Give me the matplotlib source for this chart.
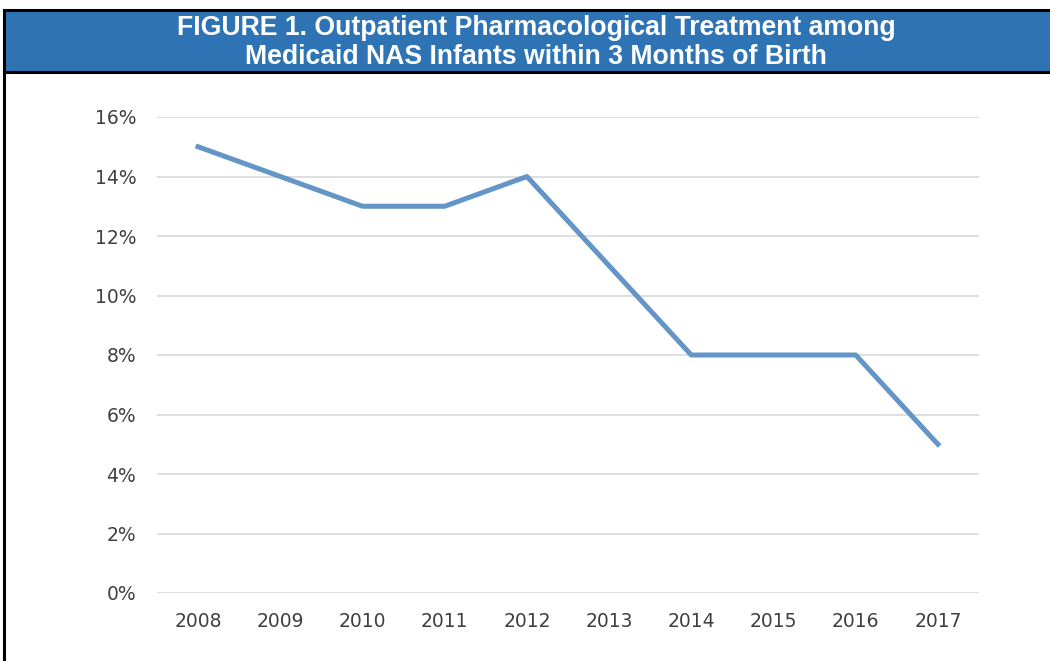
import numpy as np
import matplotlib.pyplot as plt
from matplotlib.patches import Rectangle
from matplotlib.lines import Line2D

# Outpatient pharmacological treatment share, by birth year
years = ['2008', '2009', '2010', '2011', '2012', '2013', '2014', '2015', '2016', '2017']
pct_treated = [15, 14, 13, 13, 14, 11, 8, 8, 8, 5]
y_ticks = [0, 2, 4, 6, 8, 10, 12, 14, 16]

W, H = 1050, 661
fig = plt.figure(figsize=(W / 100, H / 100), dpi=100)

# header band and frame
fig.patches.append(Rectangle((4 / W, 1 - 72 / H), 1, 62 / H, transform=fig.transFigure,
                             facecolor='#2E73B4', edgecolor='none'))
for yy in (10, 72):
    fig.add_artist(Line2D([4 / W, 1], [1 - yy / H, 1 - yy / H], color='black', lw=2.2))
fig.add_artist(Line2D([4 / W, 4 / W], [0, 1 - 10 / H], color='black', lw=2.2))

fig.text(536 / W, 1 - 28 / H, 'FIGURE 1. Outpatient Pharmacological Treatment among',
         ha='center', va='center', color='white', fontsize=19.2, fontweight='bold',
         family='Liberation Sans')
fig.text(536 / W, 1 - 57 / H, 'Medicaid NAS Infants within 3 Months of Birth',
         ha='center', va='center', color='white', fontsize=19.2, fontweight='bold',
         family='Liberation Sans')

# plot area
ax = fig.add_axes([157 / W, 1 - 593 / H, (979 - 157) / W, (593 - 117) / H])
x = np.arange(len(years))
ax.plot(x, pct_treated, color='#6395C7', lw=3.6)
ax.set_xlim(-0.5, len(years) - 0.5)
ax.set_ylim(0, 16)
ax.set_yticks(y_ticks)
ax.set_yticklabels([f'{v}%' for v in y_ticks])
ax.set_xticks(x)
ax.set_xticklabels(years)
ax.yaxis.grid(True, color='#D9D9D9', lw=1.2)
ax.set_axisbelow(True)
for s in ax.spines.values():
    s.set_visible(False)
ax.tick_params(length=0, labelsize=13.5, colors='#404040', labelfontfamily='DejaVu Sans')
ax.tick_params(axis='y', pad=15)
ax.tick_params(axis='x', pad=14)

fig.savefig('out.png', dpi=100)
